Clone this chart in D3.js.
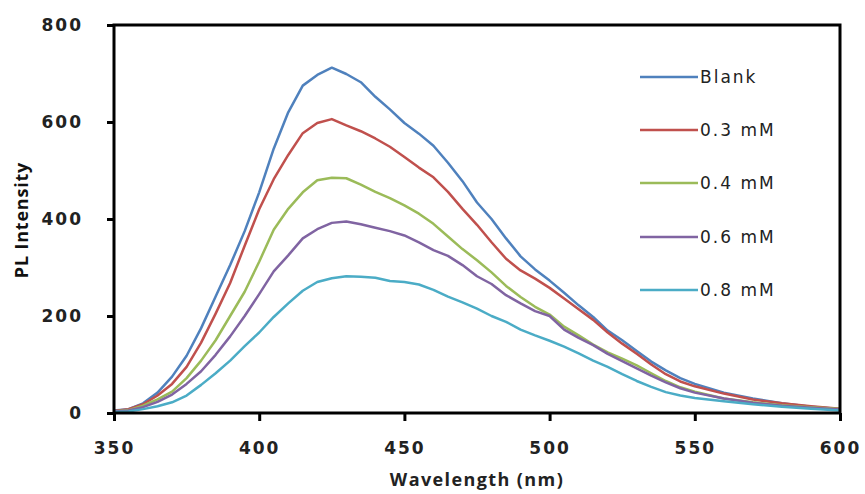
<!DOCTYPE html>
<html><head><meta charset="utf-8">
<script src="https://cdn.jsdelivr.net/npm/d3@7"></script>
<style>body{margin:0;background:#fff}svg{display:block}</style>
</head><body>
<svg id="c" width="865" height="494"></svg>
<script>
const wavelengths = [350,355,360,365,370,375,380,385,390,395,400,405,410,415,420,425,430,435,440,445,450,455,460,465,470,475,480,485,490,495,500,505,510,515,520,525,530,535,540,545,550,560,570,580,590,600];
const blank = [5,8,20,42,75,118,175,240,305,375,455,545,620,675,697,712,699,682,652,626,598,576,551,516,478,434,400,360,323,296,273,248,222,198,170,150,128,106,88,72,60,42,30,20,13,8];
const mM03 = [4,8,18,36,60,95,145,205,268,345,420,482,532,577,598,606,593,581,566,549,528,506,486,456,421,388,352,318,294,277,258,236,214,192,166,143,122,100,80,65,55,40,28,20,14,9];
const mM04 = [3,6,15,28,44,72,108,150,200,250,312,378,421,455,480,485,484,471,456,443,428,411,390,364,338,315,290,262,239,219,203,178,160,141,125,112,98,82,66,53,44,30,22,16,12,8];
const mM06 = [3,5,12,23,38,60,86,120,158,200,245,292,325,360,379,392,395,389,382,375,366,352,336,324,305,282,266,243,226,210,200,172,155,140,122,107,92,77,63,51,42,30,21,15,11,7];
const mM08 = [2,3,8,14,22,36,58,82,108,138,166,198,226,252,270,278,282,281,279,272,270,265,254,240,228,215,200,188,172,160,149,137,123,108,95,80,66,54,43,36,31,24,18,13,9,5];
const seriesNames = ["Blank","0.3 mM","0.4 mM","0.6 mM","0.8 mM"];
const seriesValues = [blank, mM03, mM04, mM06, mM08];
const colors = ["#4F81BD","#C0504D","#9BBB59","#8064A2","#4BACC6"];
const xTicks = [350,400,450,500,550,600];
const yTicks = [0,200,400,600,800];

const svg = d3.select("#c");
const m = {l:114, r:25, t:25, b:81};
const W = 865, H = 494;
const x = d3.scaleLinear().domain([350,600]).range([m.l, W-m.r]);
const y = d3.scaleLinear().domain([0,800]).range([H-m.b, m.t]);

const line = d3.line().x((d,i)=>x(wavelengths[i])).y(d=>y(d));
seriesValues.forEach((vals,k)=>{
  svg.append("path").datum(vals).attr("d", line)
    .attr("fill","none").attr("stroke",colors[k]).attr("stroke-width",2.5)
    .attr("stroke-linejoin","round");
});

// frame
svg.append("rect").attr("x",m.l).attr("y",m.t).attr("width",W-m.r-m.l).attr("height",H-m.b-m.t)
  .attr("fill","none").attr("stroke","#000").attr("stroke-width",3);

const tickFont = "'DejaVu Sans', sans-serif";
const xa = svg.append("g").attr("transform",`translate(0,${H-m.b})`)
  .call(d3.axisBottom(x).tickValues(xTicks).tickSize(8).tickPadding(21).tickFormat(d3.format("d")));
const ya = svg.append("g").attr("transform",`translate(${m.l},0)`)
  .call(d3.axisLeft(y).tickValues(yTicks).tickSize(7).tickPadding(24).tickFormat(d3.format("d")));
[xa,ya].forEach(a=>{
  a.select(".domain").remove();
  a.selectAll(".tick line").attr("stroke","#000").attr("stroke-width",3);
  a.selectAll(".tick text").attr("fill","#222").style("font-family",tickFont)
   .style("font-weight","bold").style("font-size","17px").style("letter-spacing","2px");
});

svg.append("text").attr("x",477).attr("y",486).attr("text-anchor","middle")
  .style("font-family","'Open Sans', sans-serif").style("font-weight","bold").style("font-size","18px")
  .style("letter-spacing","1.4px")
  .attr("fill","#222").text("Wavelength (nm)");
svg.append("text").attr("transform","translate(28,220) rotate(-90)").attr("text-anchor","middle")
  .style("font-family","'Open Sans', sans-serif").style("font-weight","bold").style("font-size","18px")
  .style("letter-spacing","0.8px")
  .attr("fill","#111").text("PL Intensity");

// legend
const legY = [77,130,183,237,290];
seriesNames.forEach((n,k)=>{
  svg.append("line").attr("x1",640).attr("x2",698).attr("y1",legY[k]).attr("y2",legY[k])
    .attr("stroke",colors[k]).attr("stroke-width",2.5);
  svg.append("text").attr("x",700).attr("y",legY[k]).attr("dy","0.35em")
    .style("font-family",tickFont).style("font-size","17px").style("letter-spacing","2px")
    .attr("fill","#222").text(n);
});
</script>
</body></html>
